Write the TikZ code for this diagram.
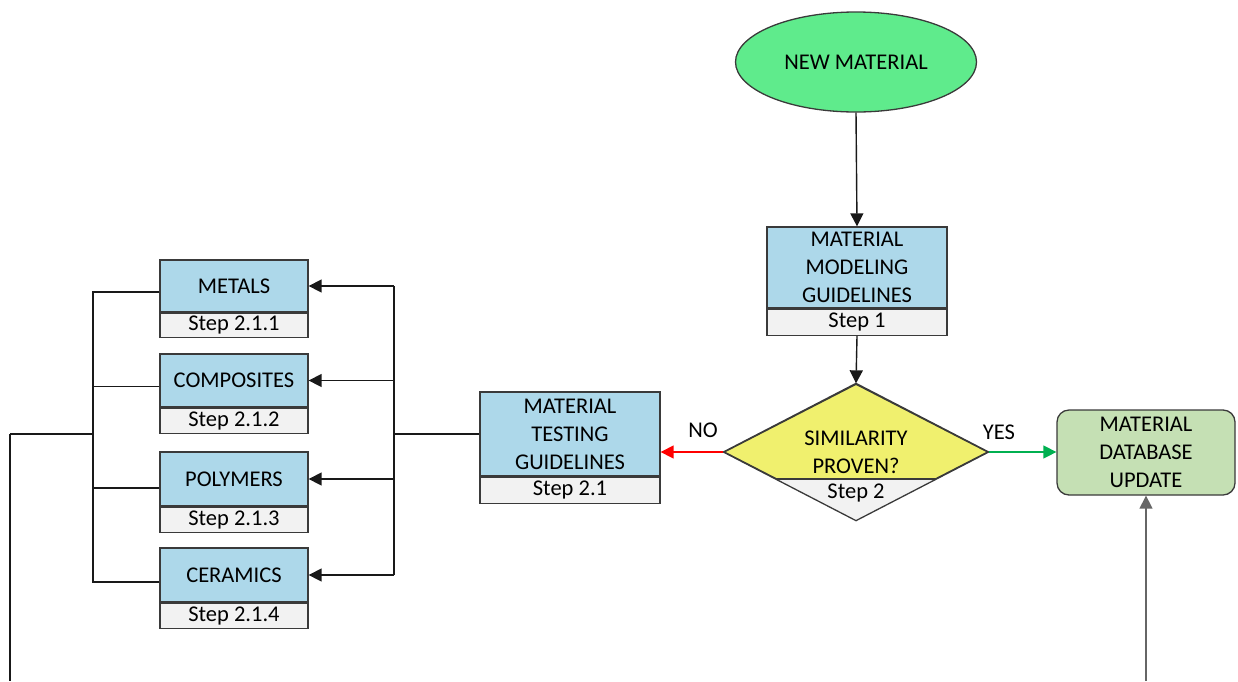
\documentclass[tikz,border=0pt]{standalone}
\usepackage{fontspec}
\setmainfont{Carlito}
\usetikzlibrary{shapes.geometric,arrows.meta,calc}
\definecolor{boxblue}{HTML}{ADD8EA}
\definecolor{stepgrey}{HTML}{F2F2F2}
\definecolor{dyellow}{HTML}{F0F06E}
\definecolor{egreen}{HTML}{5FEB8C}
\definecolor{dbgreen}{HTML}{C5E0B4}
\definecolor{yesgreen}{HTML}{00B050}
\definecolor{bordergrey}{HTML}{3A3A3A}
\begin{document}
\begin{tikzpicture}[x=1pt,y=-1pt,font=\fontsize{22.5}{28}\selectfont,
  mainbox/.style={draw=bordergrey,line width=1.3pt,fill=boxblue,align=center,inner sep=0pt,text=black},
  stepbox/.style={draw=bordergrey,line width=1.3pt,fill=stepgrey,inner sep=0pt,text=black},
  conn/.style={line width=1.4pt,draw=black!90},
  arr/.style={conn,-{Triangle[length=13pt,width=13pt]}},
  lbl/.style={inner sep=0pt,text=black}]
\useasboundingbox (0,0) rectangle (1238,681);

% start ellipse
\node[ellipse,draw=bordergrey,line width=1.3pt,fill=egreen,minimum width=241,minimum height=100,inner sep=0pt,text=black] (nm) at (856,62) {NEW MATERIAL};

% step 1
\node[mainbox,minimum width=180,minimum height=81] (s1) at (857,267.5) {MATERIAL\\MODELING\\GUIDELINES};
\node[stepbox,minimum width=180,minimum height=26,anchor=north] (s1s) at (s1.south) {Step 1};

% decision diamond
\node[diamond,draw=bordergrey,line width=1.3pt,fill=dyellow,minimum width=264,minimum height=136,inner sep=0pt] (d) at (856,452) {};
\begin{scope}
  \clip (d.west) -- (d.north) -- (d.east) -- (d.south) -- cycle;
  \fill[stepgrey] (700,479) rectangle (1000,530);
\end{scope}
\draw[bordergrey,line width=1.3pt] (d.west) -- (d.north) -- (d.east) -- (d.south) -- cycle;
\draw[bordergrey,line width=1.3pt] (776,479) -- (936,479);
\node[lbl,align=center] (dt) at (856,452) {SIMILARITY\\PROVEN?};
\node[lbl] (ds) at (856,493) {Step 2};

% database update
\node[draw=bordergrey,line width=1.3pt,fill=dbgreen,rounded corners=12pt,minimum width=178,minimum height=85,align=center,inner sep=0pt,text=black] (db) at (1146,452.5) {MATERIAL\\DATABASE\\UPDATE};

% step 2.1
\node[mainbox,minimum width=180,minimum height=84] (t) at (570,434) {MATERIAL\\TESTING\\GUIDELINES};
\node[stepbox,minimum width=180,minimum height=26,anchor=north] (ts) at (t.south) {Step 2.1};

% material classes
\node[mainbox,minimum width=148,minimum height=52] (m1) at (234,286) {METALS};
\node[stepbox,minimum width=148,minimum height=24,anchor=north] (m1s) at (m1.south) {Step 2.1.1};
\node[mainbox,minimum width=148,minimum height=53] (m2) at (234,380.5) {COMPOSITES};
\node[stepbox,minimum width=148,minimum height=25,anchor=north] (m2s) at (m2.south) {Step 2.1.2};
\node[mainbox,minimum width=148,minimum height=54] (m3) at (234,479) {POLYMERS};
\node[stepbox,minimum width=148,minimum height=25,anchor=north] (m3s) at (m3.south) {Step 2.1.3};
\node[mainbox,minimum width=148,minimum height=54] (m4) at (234,575) {CERAMICS};
\node[stepbox,minimum width=148,minimum height=25,anchor=north] (m4s) at (m4.south) {Step 2.1.4};

% labels
\node[lbl] (no) at (703,430) {NO};
\node[lbl] (yes) at (999,432) {YES};

% connectors
\draw[arr] (nm.south) -- (s1.north);
\draw[arr] (s1s.south) -- (d.north);
\draw[conn,red,-{Triangle[length=13pt,width=13pt]}] (d.west) -- (d.west -| t.east);
\draw[conn,yesgreen,-{Triangle[length=13pt,width=13pt]}] (d.east) -- (d.east -| db.west);

\coordinate (bR) at (394,434);
\draw[conn,line width=2pt] (t.west) -- (bR);
\draw[conn] (bR |- m1.east) -- (bR |- m4.east);
\draw[arr] (bR |- m1.east) -- (m1.east);
\draw[arr] (bR |- m2.east) -- (m2.east);
\draw[arr] (bR |- m3.east) -- (m3.east);
\draw[arr] (bR |- m4.east) -- (m4.east);

\coordinate (bL) at (93,434);
\coordinate (l1) at ($(m1.west)+(0,6)$);
\coordinate (l2) at ($(m2.west)+(0,6)$);
\coordinate (l3) at ($(m3.west)+(0,9)$);
\coordinate (l4) at ($(m4.west)+(0,7)$);
\draw[conn] (l1) -- (l1 -| bL) -- (l4 -| bL) -- (l4);
\draw[conn] (l2) -- (l2 -| bL);
\draw[conn] (l3) -- (l3 -| bL);
\coordinate (cL) at (10,434);
\coordinate (eL) at (10,681);
\draw[conn,line width=2pt] (bL) -- (cL);
\draw[conn] (cL) -- (eL);

\coordinate (eR) at (1146,681);
\draw[arr,draw=black!60] (eR) -- (db.south);
\end{tikzpicture}
\end{document}
